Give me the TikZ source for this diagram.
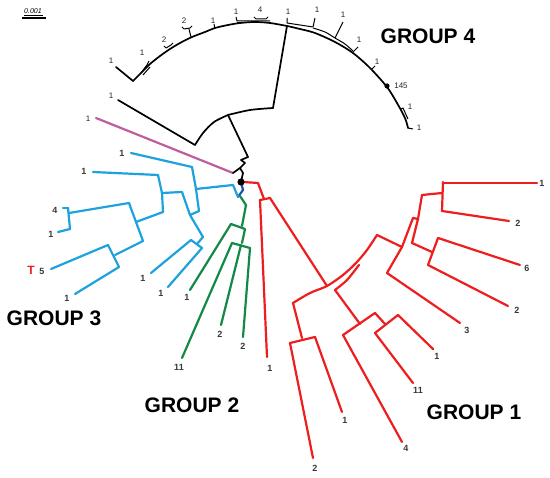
\documentclass[tikz,border=0pt]{standalone}
\usepackage{fontspec}
\setmainfont{Liberation Sans}
\definecolor{cRed}{RGB}{238,30,30}
\definecolor{cBlue}{RGB}{30,162,222}
\definecolor{cDBlue}{RGB}{25,85,170}
\definecolor{cGreen}{RGB}{20,136,72}
\definecolor{cPink}{RGB}{192,92,160}
\begin{document}
\begin{tikzpicture}[x=1pt,y=-1pt,
  br/.style={line width=2.2pt, line join=round, line cap=round},
  rd/.style={br, draw=cRed},
  bl/.style={br, draw=cBlue},
  gr/.style={br, draw=cGreen},
  bk/.style={line width=1.7pt, draw=black, line join=round, line cap=round},
  tk/.style={line width=1pt, draw=black, line join=round},
  lab/.style={font=\bfseries\fontsize{9}{10}\selectfont, text=black!78, inner sep=0pt},
  lab4/.style={font=\fontsize{8}{9}\selectfont, text=black!85, inner sep=0pt},
  grp/.style={font=\bfseries\fontsize{21}{24}\selectfont, inner sep=0pt}
]
\useasboundingbox (0,0) rectangle (550,478);
\fill[white] (0,0) rectangle (550,478);

% scale bar
\node[font=\itshape\fontsize{7}{8}\selectfont, inner sep=0pt] (sc) at (33,11) {0.001};
\coordinate (suA) at (24,15); \coordinate (suB) at (43,15);
\draw[line width=0.5pt] (suA) -- (suB);
\coordinate (sbA) at (22,18); \coordinate (sbB) at (46,18);
\draw[line width=1.4pt] (sbA) -- (sbB);

% ---------------- GROUP 4 (black) ----------------
\coordinate (root) at (241,182);
\coordinate (k1) at (228,115);
\coordinate (k2) at (195,145);
\coordinate (k3) at (273,108);
\coordinate (k4) at (287,26);
\draw[bk] (root) -- (243,173) -- (240,168) -- (245,163) -- (241,160) -- (248,157) -- (k1);
\draw[bk] plot[smooth] coordinates {(k1) (214,122) (203,133) (k2)};
\draw[bk] (k2) -- (118,100);
\draw[bk] plot[smooth] coordinates {(k1) (250,110) (k3)};
\draw[bk] (k3) -- (k4);
\draw[bk] plot[smooth] coordinates {(133,81) (142,72) (150,64) (160,56) (170,49) (180,43) (192,37) (205,32) (215,28) (228,25) (240,23) (255,22) (270,23) (287,26) (300,29) (315,33) (335,42) (353,53) (370,68) (387,87) (397,103) (405,118) (408,128)};
\draw[bk] (133,81) -- (116,67);
\draw[tk] (408,128) -- (413,129);
% small clades / ticks on the arc
\draw[tk] (141,73) -- (147,65) -- (149,61);
\draw[tk] (143,75) -- (150,67);
\draw[tk] (164,46) -- (166,48) -- (171,45) -- (173,43);
\draw[tk] (182,27) -- (184,29) -- (190,28) -- (192,26);
\draw[tk] (189,29) -- (191,37);
\draw[tk] (214,24) -- (215,29);
\draw[tk] (236,17) -- (237,21) -- (270,21);
\draw[tk] (237,23) -- (270,23);
\draw[tk] (254,17) -- (256,19) -- (266,19) -- (268,17);
\draw[tk] (287,18) -- (287,23) -- (313,27);
\draw[tk] (313,27) -- (315,18);
\draw[tk] plot[smooth] coordinates {(313,28) (325,32) (335,38) (345,44) (353,51)};
\draw[tk] (335,38) -- (343,22);
\draw[tk] (353,52) -- (358,47);
\draw[tk] (372,69) -- (375,66);
\fill (387,86) circle (2.6pt);
\draw[tk] (401,109) -- (403,108) -- (408,119);
% labels group 4
\node[lab4] (l4a) at (111,61) {1};
\node[lab4] (l4b) at (142,53) {1};
\node[lab4] (l4c) at (164,40) {2};
\node[lab4] (l4d) at (184,21) {2};
\node[lab4] (l4e) at (213,21) {1};
\node[lab4] (l4f) at (236,12) {1};
\node[lab4] (l4g) at (260,10) {4};
\node[lab4] (l4h) at (288,12) {1};
\node[lab4] (l4i) at (317,10) {1};
\node[lab4] (l4j) at (343,15) {1};
\node[lab4] (l4k) at (359,40) {1};
\node[lab4] (l4l) at (377,62) {1};
\node[lab4] (l4m) at (401,86) {145};
\node[lab4] (l4n) at (410,107) {1};
\node[lab4] (l4o) at (419,128) {1};
\node[lab4] (l4p) at (111,96) {1};

% pink leaf
\coordinate (pk) at (233,173);
\draw[br, draw=cPink] (96,118) -- (pk);
\draw[bk] (pk) -- (240,168);
\node[lab4] (lpk) at (88,119) {1};

% ---------------- GROUP 3 (blue) ----------------
\coordinate (b0) at (238,197);
\coordinate (bN) at (196,189);
\draw[br, draw=cDBlue] (root) -- (243,190) -- (b0);
\draw[bl] (b0) -- (233,185) -- (bN);
\draw[bl] (192,167) -- (bN) -- (199,211);
\draw[bl] (192,167) -- (131,153);
\draw[bl] (199,211) -- (190,215);
\draw[bl] (182,192) -- (190,215) -- (203,237);
\draw[bl] (182,192) -- (162,193);
\draw[bl] (158,175) -- (162,193) -- (163,212);
\draw[bl] (158,175) -- (93,172);
\draw[bl] (163,212) -- (136,222);
\draw[bl] (129,203) -- (136,222) -- (143,241);
\draw[bl] (129,203) -- (69,213);
\draw[bl] (68,208) -- (70,229);
\draw[bl] (63,208) -- (68,208);
\draw[bl] (70,229) -- (58,232);
\draw[bl] (143,241) -- (115,255);
\draw[bl] (108,245) -- (119,267);
\draw[bl] (108,245) -- (51,269);
\draw[bl] (119,267) -- (75,294);
\draw[bl] (203,237) -- (197,244);
\draw[bl] (191,240) -- (202,248);
\draw[bl] (191,240) -- (151,273);
\draw[bl] (202,248) -- (168,287);
\node[lab] (l3a) at (122,153) {1};
\node[lab] (l3b) at (84,171) {1};
\node[lab] (l3c) at (55,210) {4};
\node[lab] (l3d) at (51,234) {1};
\node[lab] (l3e) at (42,271) {5};
\node[font=\bfseries\fontsize{12}{13}\selectfont, text=cRed, inner sep=0pt] (l3T) at (31,270) {T};
\node[lab] (l3f) at (67,298) {1};
\node[lab] (l3g) at (143,278) {1};
\node[lab] (l3h) at (161,293) {1};

% ---------------- GROUP 2 (green) ----------------
\draw[gr] (240,196) -- (246,205) -- (242,226);
\draw[gr] (231,224) -- (245,229) -- (242,243);
\draw[gr] (232,243) -- (250,248);
\draw[gr] (231,224) -- (190,290);
\draw[gr] (232,243) -- (182,358);
\draw[gr] (241,245) -- (221,325);
\draw[gr] (250,248) -- (243,337);
\node[lab] (l2a) at (187,297) {1};
\node[lab] (l2b) at (179,367) {11};
\node[lab] (l2c) at (220,334) {2};
\node[lab] (l2d) at (243,346) {2};

% ---------------- GROUP 1 (red) ----------------
\draw[rd] (243,182) -- (258,183) -- (264,199);
\draw[rd] (260,200) -- (270,198);
\draw[rd] (260,200) -- (267,357);
\draw[rd] (270,198) -- (327,286);
\draw[rd] plot[smooth] coordinates {(293,303) (310,293) (327,286) (343,275) (356,263) (367,250) (377,235)};
\draw[rd] plot[smooth] coordinates {(335,290) (347,280) (359,265)};
\draw[rd] (335,290) -- (360,324);
\draw[rd] (343,335) -- (375,313);
\draw[rd] (343,335) -- (402,442);
\draw[rd] (375,313) -- (385,324);
\draw[rd] (375,333) -- (398,315);
\draw[rd] (375,333) -- (413,383);
\draw[rd] (398,315) -- (433,349);
\draw[rd] (293,303) -- (302,338);
\draw[rd] (290,343) -- (315,337);
\draw[rd] (290,343) -- (313,458);
\draw[rd] (315,337) -- (342,412);
\draw[rd] (377,235) -- (402,247);
\draw[rd] (413,218) -- (402,247) -- (387,273);
\draw[rd] (387,273) -- (460,323);
\draw[rd] (413,218) -- (418,219);
\draw[rd] (422,195) -- (418,219) -- (412,243);
\draw[rd] (422,195) -- (442,193);
\draw[rd] (443,182) -- (442,211);
\draw[rd] (443,183) -- (537,183);
\draw[rd] (442,211) -- (509,221);
\draw[rd] (412,243) -- (432,252);
\draw[rd] (438,238) -- (428,265);
\draw[rd] (438,238) -- (520,265);
\draw[rd] (428,265) -- (508,306);
\node[lab] (l1a) at (270,368) {1};
\node[lab] (l1b) at (315,468) {2};
\node[lab] (l1c) at (345,420) {1};
\node[lab] (l1d) at (406,448) {4};
\node[lab] (l1e) at (418,390) {11};
\node[lab] (l1f) at (437,356) {1};
\node[lab] (l1g) at (467,330) {3};
\node[lab] (l1h) at (517,310) {2};
\node[lab] (l1i) at (527,268) {6};
\node[lab] (l1j) at (518,223) {2};
\node[lab] (l1k) at (542,183) {1};

% root dot
\fill (root) circle (3.6pt);

% group labels
\node[grp] (G4) at (428,36) {GROUP 4};
\node[grp] (G3) at (54,318) {GROUP 3};
\node[grp] (G2) at (192,405) {GROUP 2};
\node[grp] (G1) at (474,412) {GROUP 1};
\end{tikzpicture}
\end{document}
